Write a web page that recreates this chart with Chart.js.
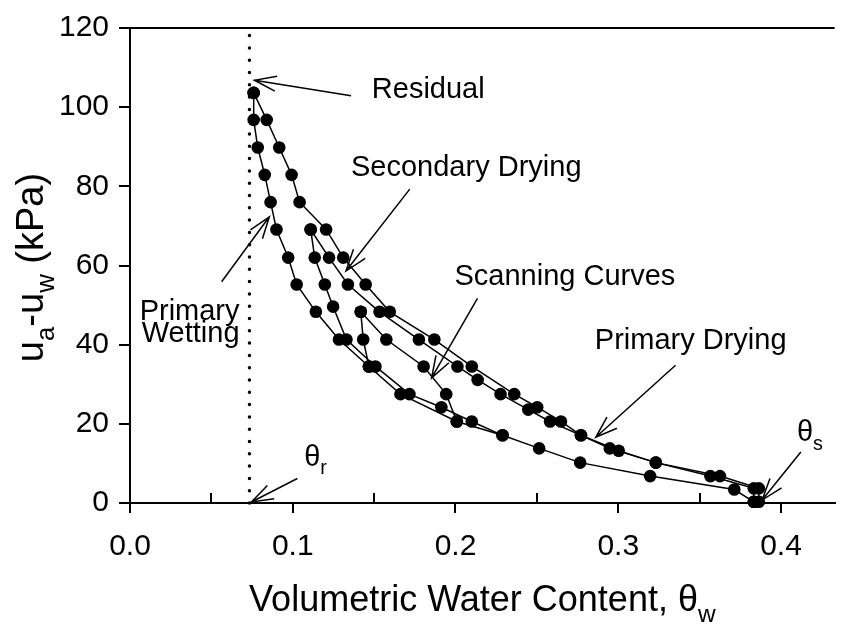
<!DOCTYPE html>
<html>
<head>
<meta charset="utf-8">
<script src="https://cdn.jsdelivr.net/npm/chart.js@4.4.1/dist/chart.umd.min.js"></script>
<style>
body { margin: 0; background: #fff; }
</style>
</head>
<body>
<canvas id="swccChart" width="841" height="626"></canvas>
<script>
// volumetric water content and matric suction (kPa) for each branch
var primaryDryingTheta   = [0.3864, 0.3864, 0.3625, 0.3231, 0.3003, 0.2771, 0.2648, 0.2502, 0.2361, 0.2100, 0.1870, 0.1596, 0.1448, 0.1310, 0.1205, 0.1042, 0.0993, 0.0917, 0.0840, 0.0760];
var primaryDryingSuction = [0.3, 3.7, 6.8, 10.2, 13.2, 17.1, 20.6, 24.2, 27.5, 34.5, 41.3, 48.3, 55.2, 62.0, 69.1, 76.0, 82.9, 89.8, 96.8, 103.6];

var primaryWettingTheta   = [0.0760, 0.0760, 0.0785, 0.0828, 0.0864, 0.0900, 0.0972, 0.1024, 0.1142, 0.1284, 0.1468, 0.1662, 0.2008, 0.2289, 0.2514, 0.2766, 0.3196, 0.3713, 0.3833];
var primaryWettingSuction = [103.6, 96.8, 89.8, 82.9, 76.0, 69.1, 62.0, 55.2, 48.3, 41.3, 34.5, 27.5, 20.6, 17.1, 13.8, 10.2, 6.8, 3.4, 0.3];

var secondaryDryingTheta   = [0.3833, 0.3833, 0.3566, 0.3231, 0.2948, 0.2771, 0.2581, 0.2447, 0.2277, 0.2136, 0.2012, 0.1775, 0.1533, 0.1339, 0.1223, 0.1110];
var secondaryDryingSuction = [0.3, 3.7, 6.8, 10.2, 13.8, 17.1, 20.6, 23.6, 27.5, 31.1, 34.5, 41.3, 48.3, 55.2, 62.0, 69.1];

var scanWetATheta   = [0.1110, 0.1135, 0.1197, 0.1248, 0.1330, 0.1508, 0.1717, 0.1913, 0.2100, 0.2289];
var scanWetASuction = [69.1, 62.0, 55.2, 49.6, 41.3, 34.5, 27.5, 24.2, 20.6, 17.1];

var scanDryTheta   = [0.2008, 0.1943, 0.1804, 0.1575, 0.1418];
var scanDrySuction = [20.6, 27.5, 34.5, 41.3, 48.3];

var scanWetBTheta   = [0.1418, 0.1433, 0.1468];
var scanWetBSuction = [48.3, 41.3, 34.5];

var residualTheta = 0.0734;

var xTickValues = [0, 0.1, 0.2, 0.3, 0.4];
var xTickLabels = ['0.0', '0.1', '0.2', '0.3', '0.4'];
var xMinorTicks = [0.05, 0.15, 0.25, 0.35];
var yTickValues = [0, 20, 40, 60, 80, 100, 120];

var FONT = '"Liberation Sans", Arial, Helvetica, sans-serif';

// callouts: text anchor and arrow (tail -> tip), all in data units
var callouts = [
    { parts: [['Residual', 0]], x: 0.1486, y: 102.3, align: 'left', arrow: [0.1358, 102.9, 0.0765, 106.8] },
    { parts: [['Secondary Drying', 0]], x: 0.1358, y: 82.5, align: 'left', arrow: [0.1719, 79.3, 0.1327, 58.6] },
    { parts: [['Scanning Curves', 0]], x: 0.1994, y: 55.2, align: 'left', arrow: [0.2135, 51.7, 0.1853, 31.6] },
    { parts: [['Primary Drying', 0]], x: 0.2856, y: 39.0, align: 'left', arrow: [0.3352, 34.8, 0.2862, 16.6] },
    { parts: [['θ', 0], ['s', 1]], x: 0.4098, y: 15.7, align: 'left', arrow: [0.4122, 12.9, 0.3884, 0.75] },
    { parts: [['θ', 0], ['r', 1]], x: 0.1070, y: 9.4, align: 'left', arrow: [0.1028, 6.2, 0.0746, 0.25] },
    { parts: [['Primary', 0]], x: 0.0673, y: 46.2, align: 'right', arrow: [0.0563, 55.9, 0.0856, 72.3] },
    { parts: [['Wetting', 0]], x: 0.0673, y: 40.7, align: 'right' }
];

function toPoints(xs, ys) {
    return xs.map(function (x, i) { return { x: x, y: ys[i] }; });
}

function curve(label, xs, ys) {
    return {
        label: label,
        data: toPoints(xs, ys),
        showLine: true,
        borderColor: '#000',
        borderWidth: 1.5,
        pointRadius: 6.3,
        pointBackgroundColor: '#000',
        pointBorderWidth: 0,
        clip: false
    };
}

// text with subscript runs
function partsWidth(c, parts, size) {
    var w = 0;
    parts.forEach(function (p) {
        c.font = (p[1] ? size * 0.68 : size) + 'px ' + FONT;
        w += c.measureText(p[0]).width;
    });
    return w;
}

function drawParts(c, parts, x, y, size) {
    parts.forEach(function (p) {
        var s = p[1] ? size * 0.68 : size;
        c.font = s + 'px ' + FONT;
        c.fillText(p[0], x, p[1] ? y + size * 0.3 : y);
        x += c.measureText(p[0]).width;
    });
}

function drawArrow(c, x1, y1, x2, y2) {
    var ang = Math.atan2(y2 - y1, x2 - x1);
    var len = 23, spread = 0.33;
    c.beginPath();
    c.moveTo(x1, y1);
    c.lineTo(x2, y2);
    c.moveTo(x2 - len * Math.cos(ang - spread), y2 - len * Math.sin(ang - spread));
    c.lineTo(x2, y2);
    c.lineTo(x2 - len * Math.cos(ang + spread), y2 - len * Math.sin(ang + spread));
    c.stroke();
}

var decorations = {
    id: 'decorations',
    afterDraw: function (chart) {
        var c = chart.ctx, xs = chart.scales.x, ys = chart.scales.y, area = chart.chartArea;
        c.save();
        c.fillStyle = '#000';
        c.strokeStyle = '#000';

        // inward minor ticks on the x axis
        c.lineWidth = 2;
        xMinorTicks.forEach(function (v) {
            var px = Math.round(xs.getPixelForValue(v));
            c.beginPath();
            c.moveTo(px, area.bottom);
            c.lineTo(px, area.bottom - 10);
            c.stroke();
        });

        // callout labels and arrows
        c.lineWidth = 1.5;
        c.textBaseline = 'alphabetic';
        c.textAlign = 'left';
        callouts.forEach(function (n) {
            var size = 29;
            var px = xs.getPixelForValue(n.x), py = ys.getPixelForValue(n.y);
            if (n.align === 'right') px -= partsWidth(c, n.parts, size);
            drawParts(c, n.parts, px, py, size);
            if (n.arrow) {
                drawArrow(c, xs.getPixelForValue(n.arrow[0]), ys.getPixelForValue(n.arrow[1]),
                          xs.getPixelForValue(n.arrow[2]), ys.getPixelForValue(n.arrow[3]));
            }
        });

        // axis titles
        var tSize = 36;
        var xTitle = [['Volumetric Water Content, θ', 0], ['w', 1]];
        var w = partsWidth(c, xTitle, tSize);
        drawParts(c, xTitle, (area.left + area.right) / 2 - w / 2, 611, tSize);

        var yTitle = [['u', 0], ['a', 1], ['-u', 0], ['w', 1], [' (kPa)', 0]];
        tSize = 38;
        w = partsWidth(c, yTitle, tSize);
        c.translate(43, (area.top + area.bottom) / 2 + 2);
        c.rotate(-Math.PI / 2);
        drawParts(c, yTitle, -w / 2, 0, tSize);
        c.restore();
    }
};

var ctx = document.getElementById('swccChart').getContext('2d');
var swccChart = new Chart(ctx, {
    type: 'scatter',
    data: {
        datasets: [
            curve('Primary Drying', primaryDryingTheta, primaryDryingSuction),
            curve('Primary Wetting', primaryWettingTheta, primaryWettingSuction),
            curve('Secondary Drying', secondaryDryingTheta, secondaryDryingSuction),
            curve('Scanning Wetting A', scanWetATheta, scanWetASuction),
            curve('Scanning Drying', scanDryTheta, scanDrySuction),
            curve('Scanning Wetting B', scanWetBTheta, scanWetBSuction),
            {
                label: 'Residual',
                data: [{ x: residualTheta, y: 0 }, { x: residualTheta, y: 120 }],
                showLine: true,
                borderColor: '#000',
                borderWidth: 3.5,
                borderDash: [0, 12.3],
                borderCapStyle: 'round',
                pointRadius: 0,
                clip: false
            }
        ]
    },
    options: {
        responsive: false,
        animation: false,
        layout: { padding: { top: 20, right: 3, left: 0, bottom: 0 } },
        plugins: { legend: { display: false }, tooltip: { enabled: false } },
        scales: {
            x: {
                type: 'linear',
                min: 0,
                max: 0.433,
                afterBuildTicks: function (s) { s.ticks = xTickValues.map(function (v) { return { value: v }; }); },
                afterFit: function (s) { s.height = 123; },
                ticks: {
                    callback: function (v, i) { return xTickLabels[i]; },
                    color: '#000',
                    font: { family: FONT, size: 30 },
                    padding: 16,
                    maxRotation: 0
                },
                grid: { drawOnChartArea: false, color: '#000', lineWidth: 2, tickLength: 10 },
                border: { color: '#000', width: 2 }
            },
            y: {
                type: 'linear',
                min: 0,
                max: 120,
                afterBuildTicks: function (s) { s.ticks = yTickValues.map(function (v) { return { value: v }; }); },
                afterFit: function (s) { s.width = 130; },
                ticks: {
                    color: '#000',
                    font: { family: FONT, size: 30 },
                    padding: 10
                },
                grid: {
                    color: function (c) { return c.tick && c.tick.value === 120 ? '#000' : 'rgba(0,0,0,0)'; },
                    tickColor: '#000',
                    lineWidth: 2,
                    tickLength: 11
                },
                border: { color: '#000', width: 2 }
            }
        }
    },
    plugins: [decorations]
});
</script>
</body>
</html>
